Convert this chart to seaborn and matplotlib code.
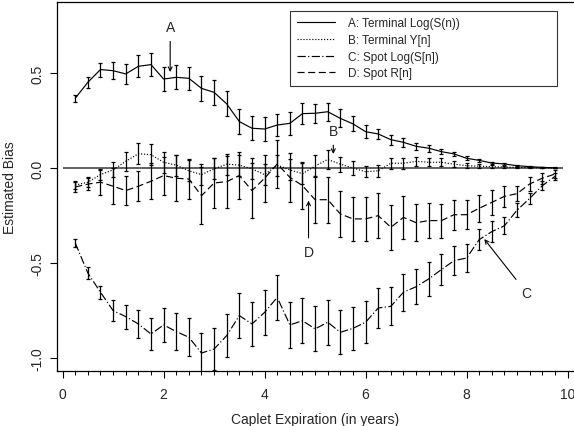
import numpy as np
import pandas as pd
import matplotlib
matplotlib.use("Agg")
import matplotlib.pyplot as plt
from matplotlib.ticker import MultipleLocator
import seaborn as sns

# Caplet expirations (years)
expiry = [0.25, 0.5, 0.75, 1.0, 1.25, 1.5, 1.75, 2.0, 2.25, 2.5, 2.75, 3.0, 3.25,
          3.5, 3.75, 4.0, 4.25, 4.5, 4.75, 5.0, 5.25, 5.5, 5.75, 6.0, 6.25, 6.5,
          6.75, 7.0, 7.25, 7.5, 7.75, 8.0, 8.25, 8.5, 8.75, 9.0, 9.25, 9.5, 9.75]

# A: Terminal Log(S(n))
bias_a = [0.367, 0.451, 0.518, 0.512, 0.495, 0.535, 0.544, 0.468, 0.477, 0.472,
          0.419, 0.398, 0.337, 0.244, 0.209, 0.205, 0.226, 0.235, 0.286, 0.288,
          0.296, 0.261, 0.232, 0.191, 0.179, 0.149, 0.135, 0.114, 0.104, 0.086,
          0.074, 0.051, 0.040, 0.026, 0.021, 0.012, 0.007, 0.003, 0.001]
err_a = [0.019, 0.029, 0.037, 0.044, 0.052, 0.057, 0.061, 0.061, 0.063, 0.061,
         0.066, 0.067, 0.066, 0.066, 0.062, 0.061, 0.058, 0.060, 0.057, 0.049,
         0.048, 0.048, 0.040, 0.033, 0.028, 0.026, 0.024, 0.018, 0.018, 0.015,
         0.012, 0.010, 0.008, 0.007, 0.006, 0.005, 0.004, 0.003, 0.002]

# B: Terminal Y[n]
bias_b = [-0.090, -0.075, -0.035, -0.010, 0.035, 0.075, 0.070, 0.030, 0.015, -0.015,
          -0.035, -0.005, 0.020, 0.015, -0.005, -0.035, 0.015, -0.010, -0.030, 0.010,
          0.045, 0.020, 0.000, -0.020, -0.015, 0.025, 0.025, 0.035, 0.030, 0.030,
          0.020, 0.012, 0.009, 0.007, 0.005, 0.003, 0.002, 0.001, 0.000]
err_b = [0.020, 0.025, 0.030, 0.040, 0.050, 0.055, 0.055, 0.055, 0.055, 0.055,
         0.055, 0.055, 0.055, 0.055, 0.055, 0.055, 0.055, 0.055, 0.055, 0.060,
         0.050, 0.040, 0.035, 0.030, 0.030, 0.030, 0.028, 0.025, 0.020, 0.020,
         0.015, 0.012, 0.010, 0.008, 0.006, 0.005, 0.004, 0.003, 0.002]

# C: Spot Log(S[n])
bias_c = [-0.395, -0.553, -0.654, -0.751, -0.782, -0.821, -0.874, -0.826, -0.861, -0.891,
          -0.974, -0.953, -0.882, -0.777, -0.821, -0.760, -0.681, -0.826, -0.804, -0.847,
          -0.812, -0.865, -0.844, -0.812, -0.737, -0.728, -0.654, -0.625, -0.584, -0.535,
          -0.488, -0.474, -0.377, -0.335, -0.304, -0.222, -0.160, -0.093, -0.044]
err_c = [0.019, 0.031, 0.035, 0.055, 0.063, 0.074, 0.083, 0.090, 0.097, 0.100,
         0.105, 0.110, 0.112, 0.117, 0.116, 0.120, 0.120, 0.121, 0.118, 0.118,
         0.118, 0.116, 0.114, 0.110, 0.106, 0.100, 0.098, 0.093, 0.091, 0.082,
         0.077, 0.073, 0.057, 0.054, 0.046, 0.038, 0.030, 0.025, 0.018]

# D: Spot R[n]
bias_d = [-0.100, -0.085, -0.075, -0.096, -0.119, -0.096, -0.070, -0.040, -0.054, -0.058,
          -0.146, -0.079, -0.072, -0.040, -0.119, -0.054, 0.021, -0.049, -0.093, -0.167,
          -0.167, -0.242, -0.268, -0.268, -0.251, -0.312, -0.260, -0.288, -0.277, -0.277,
          -0.246, -0.246, -0.212, -0.181, -0.149, -0.135, -0.084, -0.054, -0.032]
err_d = [0.025, 0.030, 0.065, 0.096, 0.075, 0.080, 0.094, 0.100, 0.120, 0.107,
         0.149, 0.130, 0.137, 0.125, 0.143, 0.123, 0.127, 0.128, 0.123, 0.123,
         0.120, 0.120, 0.114, 0.114, 0.117, 0.118, 0.114, 0.098, 0.092, 0.090,
         0.080, 0.075, 0.070, 0.065, 0.055, 0.040, 0.035, 0.028, 0.022]

labels = ["A: Terminal Log(S(n))", "B: Terminal Y[n]",
          "C: Spot Log(S[n])", "D: Spot R[n]"]
series = [bias_a, bias_b, bias_c, bias_d]
errors = [err_a, err_b, err_c, err_d]
styles = ["-", (0, (1, 1.5)), (0, (7, 2, 1, 2)), (0, (6, 3))]

sns.set_style("white")
plt.rcParams["font.family"] = ["Liberation Sans", "DejaVu Sans"]
plt.rcParams["font.size"] = 10

fig = plt.figure(figsize=(5.74, 4.27), dpi=100)
ax = fig.add_axes([0.0988, 0.1295, 0.9012, 0.8628])

for lab, vals, errs, ls in zip(labels, series, errors, styles):
    df = pd.DataFrame({"expiry": expiry, "bias": vals})
    sns.lineplot(data=df, x="expiry", y="bias", ax=ax, color="black",
                 linewidth=0.85, linestyle=ls, label=lab, errorbar=None)
    ax.errorbar(expiry, vals, yerr=errs, fmt="none", ecolor="black",
                elinewidth=0.9, capsize=1.4, capthick=0.9, zorder=3)

# zero-bias reference line
ax.hlines(0, 0, 9.9, color="#555555", linewidth=1.3, zorder=1)

arrow = dict(arrowstyle="->", color="black", lw=0.8, mutation_scale=7,
             shrinkA=3, shrinkB=0)
for txt, tip, pos in [("A", (2.13, 0.505), (2.13, 0.742)),
                      ("B", (5.36, 0.074), (5.36, 0.196)),
                      ("D", (4.87, -0.172), (4.87, -0.444)),
                      ("C", (8.35, -0.374), (9.19, -0.658))]:
    ax.annotate(txt, xy=tip, xytext=pos, ha="center", va="center",
                fontsize=10, arrowprops=arrow)

ax.set_xlim(-0.117, 10.127)
ax.set_ylim(-1.067, 0.872)
ax.set_xticks([0, 2, 4, 6, 8, 10])
ax.set_xticklabels(["0", "2", "4", "6", "8", "10"])
ax.xaxis.set_minor_locator(MultipleLocator(0.25))
ax.set_yticks([-1.0, -0.5, 0.0, 0.5])
ax.set_yticklabels(["-1.0", "-0.5", "0.0", "0.5"], rotation=90, va="center")
ax.tick_params(axis="both", which="major", direction="out", length=5,
               width=0.8, color="black", bottom=True, left=True, labelsize=10)
ax.tick_params(axis="x", which="minor", direction="out", length=3,
               width=0.7, color="black", bottom=True)
ax.tick_params(axis="x", which="major", pad=7)
ax.tick_params(axis="y", which="major", pad=4)

for name, sp in ax.spines.items():
    sp.set_color("black")
    sp.set_linewidth(0.9)
ax.spines["right"].set_visible(False)

ax.set_xlabel("Caplet Expiration (in years)", fontsize=10)
ax.set_ylabel("Estimated Bias", fontsize=10)
ax.xaxis.set_label_coords(0.5, -0.112)
ax.yaxis.set_label_coords(-0.077, 0.5)

leg = ax.legend(loc="upper left", bbox_to_anchor=(0.451, 0.7755, 0.516, 0.2015),
                mode="expand", borderaxespad=0, frameon=True, fancybox=False,
                edgecolor="black", handlelength=3.3, handletextpad=1.1,
                labelspacing=0.4, borderpad=0.55, fontsize=8.5)
leg.get_frame().set_linewidth(0.8)

fig.savefig("out.png", dpi=100)
